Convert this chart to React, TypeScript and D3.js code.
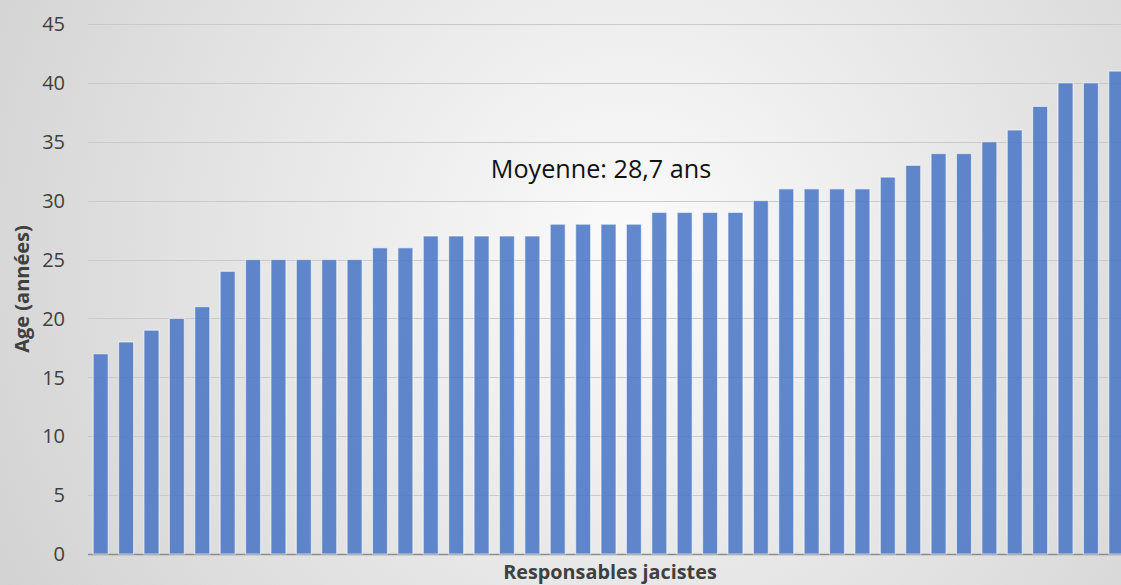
import * as d3 from "d3";
import { useEffect, useRef } from "react";

// one bar per responsible, sorted by age
const ages = [
  17, 18, 19, 20, 21, 24, 25, 25, 25, 25, 25, 26, 26, 27, 27, 27, 27, 27, 28, 28, 28,
  28, 29, 29, 29, 29, 30, 31, 31, 31, 31, 32, 33, 34, 34, 35, 36, 38, 40, 40, 41,
];
const yTicks = [0, 5, 10, 15, 20, 25, 30, 35, 40, 45];
const yTitle = "Age (années)";
const xTitle = "Responsables jacistes";

const W = 1121;
const H = 585;

export default function App() {
  const ref = useRef<SVGSVGElement | null>(null);

  useEffect(() => {
    document.body.style.margin = "0";
    const el = ref.current;
    if (!el) return;
    const svg = d3.select(el);
    svg.selectAll("*").remove();

    const margin = { top: 24, right: -8, bottom: 31, left: 88 };
    const font = "'Open Sans', 'Noto Sans', sans-serif";

    const defs = svg.append("defs");
    const grad = defs
      .append("radialGradient")
      .attr("id", "bg")
      .attr("cx", "0.56")
      .attr("cy", "0.42")
      .attr("r", "0.75")
      .attr("gradientTransform", "translate(0.56,0.42) scale(1,1.9) translate(-0.56,-0.42)");
    grad.append("stop").attr("offset", "0%").attr("stop-color", "#fbfbfb");
    grad.append("stop").attr("offset", "100%").attr("stop-color", "#cbcbcb");

    svg.append("rect").attr("width", W).attr("height", H).attr("fill", "url(#bg)");

    const x = d3
      .scaleBand<number>()
      .domain(ages.map((_, i) => i))
      .range([margin.left, W - margin.right])
      .paddingInner(0.41)
      .paddingOuter(0.205);

    const y = d3
      .scaleLinear()
      .domain([0, 45])
      .range([H - margin.bottom, margin.top]);

    // grid
    svg
      .append("g")
      .selectAll("line")
      .data(yTicks.filter((t) => t > 0))
      .enter()
      .append("line")
      .attr("x1", margin.left)
      .attr("x2", W)
      .attr("y1", (d) => Math.round(y(d)) + 0.5)
      .attr("y2", (d) => Math.round(y(d)) + 0.5)
      .attr("stroke", "#cacaca")
      .attr("stroke-width", 1);

    // baseline
    svg
      .append("line")
      .attr("x1", margin.left)
      .attr("x2", W)
      .attr("y1", Math.round(y(0)) + 0.5)
      .attr("y2", Math.round(y(0)) + 0.5)
      .attr("stroke", "#8c8c8c")
      .attr("stroke-width", 1.3);

    // bars
    svg
      .append("g")
      .selectAll("rect")
      .data(ages)
      .enter()
      .append("rect")
      .attr("x", (_, i) => x(i) ?? 0)
      .attr("y", (d) => y(d))
      .attr("width", x.bandwidth())
      .attr("height", (d) => y(0) - y(d))
      .attr("fill", "#4472c4")
      .attr("fill-opacity", 0.84)
      .attr("stroke", "rgba(255,255,255,0.55)")
      .attr("stroke-width", 1.2);

    // y tick labels
    svg
      .append("g")
      .selectAll("text")
      .data(yTicks)
      .enter()
      .append("text")
      .attr("x", 65)
      .attr("y", (d) => y(d))
      .attr("dy", "0.36em")
      .attr("text-anchor", "end")
      .attr("font-family", font)
      .attr("font-size", 20)
      .attr("fill", "#404040")
      .text((d) => String(d));

    const avg = d3.mean(ages) ?? 0;
    svg
      .append("text")
      .attr("x", 601)
      .attr("y", 178)
      .attr("text-anchor", "middle")
      .attr("font-family", font)
      .attr("font-size", 25.2)
      .attr("fill", "#111")
      .text(`Moyenne: ${avg.toFixed(1).replace(".", ",")} ans`);

    svg
      .append("text")
      .attr("transform", `translate(29,${y(22.5)}) rotate(-90)`)
      .attr("text-anchor", "middle")
      .attr("font-family", font)
      .attr("font-size", 20)
      .attr("font-weight", 700)
      .attr("fill", "#404040")
      .text(yTitle);

    svg
      .append("text")
      .attr("x", 610)
      .attr("y", 579)
      .attr("text-anchor", "middle")
      .attr("font-family", font)
      .attr("font-size", 19.8)
      .attr("font-weight", 700)
      .attr("fill", "#404040")
      .text(xTitle);
  }, []);

  return (
    <svg
      ref={ref}
      width={W}
      height={H}
      style={{ display: "block", position: "absolute", left: 0, top: 0 }}
    />
  );
}
